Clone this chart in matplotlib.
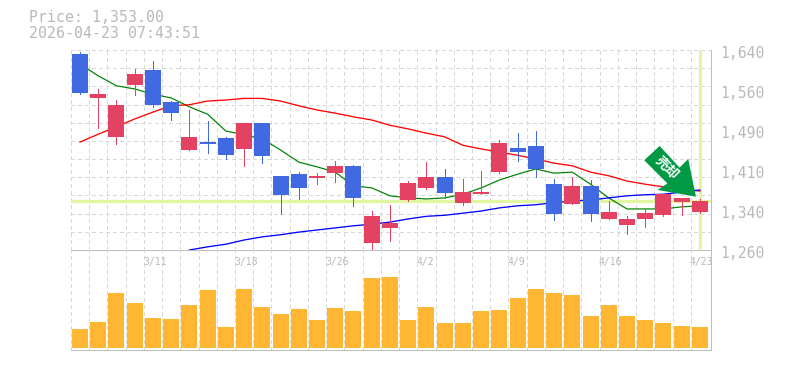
import matplotlib
matplotlib.use("Agg")
import matplotlib.pyplot as plt
import numpy as np
from matplotlib.patches import Polygon
from matplotlib.transforms import Affine2D, blended_transform_factory

opens  = [1632,1549,1475,1574,1602,1541,1450,1465,1473,1452,1501,1401,1404,1397,1406,1420,1273,1302,1355,1378,1399,1349,1366,1408,1454,1458,1385,1347,1382,1319,1308,1319,1327,1351,1332]
highs  = [1636,1566,1545,1604,1619,1543,1526,1505,1475,1501,1501,1401,1408,1406,1429,1421,1334,1345,1391,1427,1414,1395,1410,1469,1482,1486,1395,1399,1393,1353,1325,1338,1366,1359,1357]
lows   = [1556,1492,1461,1555,1532,1507,1450,1444,1433,1420,1425,1328,1357,1385,1389,1344,1258,1277,1353,1376,1359,1345,1366,1406,1429,1399,1317,1347,1315,1319,1290,1304,1325,1327,1330]
closes = [1558,1556,1536,1594,1536,1520,1475,1461,1440,1501,1439,1365,1378,1401,1420,1359,1325,1311,1387,1399,1368,1370,1370,1463,1446,1414,1328,1382,1328,1332,1319,1330,1366,1359,1353]
ma_short = [1613,1591,1572,1566,1556,1549,1532,1518,1486,1479,1471,1450,1427,1418,1408,1382,1378,1363,1359,1357,1359,1366,1378,1393,1404,1414,1406,1408,1385,1359,1338,1338,1338,1342,1344]
ma_mid = [1465,1480,1494,1509,1522,1534,1536,1543,1545,1548,1548,1543,1534,1526,1520,1513,1507,1497,1490,1482,1475,1459,1452,1446,1440,1433,1425,1420,1408,1401,1391,1385,1380,1376,1372]
ma_long_start = 6
ma_long = [1260,1266,1271,1279,1285,1289,1294,1298,1302,1306,1309,1313,1319,1324,1326,1330,1334,1340,1344,1346,1350,1353,1355,1359,1363,1365,1366,1370,1374]
volumes = [19,26,55,45,30,29,43,58,21,59,41,34,39,28,40,37,70,71,28,41,25,25,37,38,50,59,55,53,32,43,32,28,25,22,21]
date_positions = [4,9,14,19,24,29,34]
date_labels = ['3/11','3/18','3/26','4/2','4/9','4/16','4/23']
price_ticks = [1640,1564,1488,1412,1336,1260]
price_labels = ['1,640','1,560','1,490','1,410','1,340','1,260']
title_lines = ['Price: 1,353.00','2026-04-23 07:43:51']
badge_text = '売却'

RED, BLUE = '#E34262', '#4169E1'
GRID, AXIS, TEXT = '#D8D8D8', '#BEBEBE', '#B9B9B9'
HILITE, BAR, ARROW = '#E2F5A0', '#FFB733', '#009944'
MONO = 'DejaVu Sans Mono'
W, H = 785, 370
px = 72 / 100
DASH = (0, (3, 3))

fig = plt.figure(figsize=(W / 100, H / 100), dpi=100, facecolor='white')
ax = fig.add_axes([70.5 / W, (H - 250) / H, 640 / W, 200 / H])
axv = fig.add_axes([70.5 / W, (H - 350) / H, 640 / W, 100 / H])

n = len(closes)
idx = np.arange(n)
xlim = (-0.52, 34.58)
grid_x = np.arange(-0.5, 34, 1.0)

for a in (ax, axv):
    a.set_xlim(*xlim)
    a.set_xticks([])
    a.set_yticks([])
    a.patch.set_alpha(0)
    for s in a.spines.values():
        s.set_visible(False)
    for side in ('right', 'bottom'):
        a.spines[side].set_visible(True)
        a.spines[side].set_color(AXIS)
        a.spines[side].set_linewidth(px)
    lc = a.vlines(grid_x, 0, 1, transform=blended_transform_factory(a.transData, a.transAxes),
                  colors=GRID, linewidth=px, linestyles=DASH, zorder=1)
    lc.set_antialiased(False)

ax.set_ylim(1260, 1640)
axv.set_ylim(-2, 98)

lc = ax.hlines(np.linspace(1260, 1640, 12)[1:], *xlim, colors=GRID, linewidth=px, linestyles=DASH, zorder=1)
lc.set_antialiased(False)

# highlights
ax.axhline(closes[-1], color=HILITE, lw=3.2 * px, zorder=2)
ax.plot([idx[-1], idx[-1]], [1262, 1640], color=HILITE, lw=3.2 * px, zorder=2, solid_capstyle='butt')

# moving averages
ax.plot(idx, ma_short, color='#008000', lw=1.2 * px, zorder=3)
ax.plot(idx, ma_mid, color='#FF0000', lw=1.3 * px, zorder=3)
ax.plot(idx[ma_long_start:], ma_long, color='#0000FF', lw=1.3 * px, zorder=3)

# candles
colors = [RED if c >= o else BLUE for o, c in zip(opens, closes)]
lc = ax.vlines(idx, lows, highs, colors=colors, linewidth=1.0 * px, zorder=4)
lc.set_antialiased(False)
ax.bar(idx, np.abs(np.array(closes) - np.array(opens)),
       bottom=np.minimum(opens, closes), width=16 / 18.235, color=colors, zorder=5, linewidth=0)

# volume
axv.bar(idx, volumes, width=16 / 18.235, color=BAR, zorder=3, linewidth=0)

# price labels
for v, lab in zip(price_ticks, price_labels):
    ax.annotate(lab, xy=(1, v), xycoords=('axes fraction', 'data'), xytext=(9.5 * px, -3 * px),
                textcoords='offset points', ha='left', va='center', family=MONO,
                fontsize=10.6, color=TEXT, annotation_clip=False)

# date labels, starting at the gridline to the left of the day
vt = blended_transform_factory(axv.transData, axv.transAxes)
for p, lab in zip(date_positions, date_labels):
    axv.text(p - 0.55, 0.88, lab, transform=vt, ha='left', va='center', family=MONO,
             fontsize=7.0, color=TEXT, clip_on=False, zorder=6)

# header
for y, line in zip((18, 33), title_lines):
    fig.text(29 / W, 1 - y / H, line, ha='left', va='center', family=MONO, fontsize=10.7, color=TEXT)

# sell badge anchored to the last candle's high
ax_x, ax_y = ax.transData.transform((idx[-1], highs[-1]))
shape = [(-40.3, -53), (-55.7, -38.7), (-32.5, -15.5), (-42.3, -9), (-4, -2.3), (-11.7, -40), (-20.3, -31.3)]
to_px = Affine2D().scale(1, -1).translate(ax_x, ax_y)
ax.add_patch(Polygon(shape, closed=True, transform=to_px, facecolor=ARROW, edgecolor='none', zorder=7, clip_on=False))
tx, ty = to_px.transform((-33, -31))
fig.text(tx / W, ty / H, badge_text, rotation=-45, rotation_mode='anchor', ha='center', va='center',
         family=['Noto Sans CJK JP', 'DejaVu Sans'], fontweight='bold', fontsize=9.6, color='white', zorder=8)

fig.savefig('out.png', dpi=100, facecolor='white')
